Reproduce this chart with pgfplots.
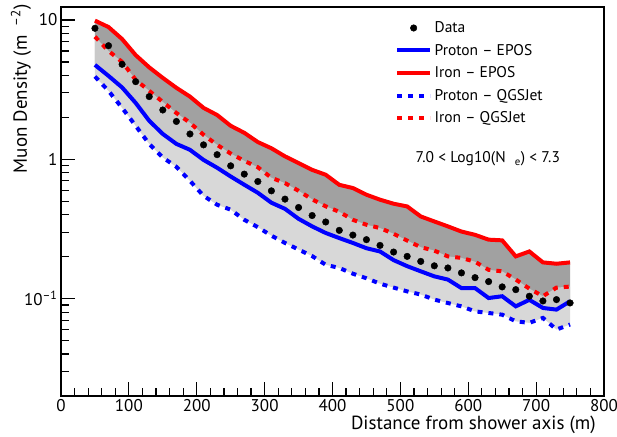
\documentclass[border=0pt]{standalone}
\usepackage{fontspec}
\setmainfont{PT Sans}
\usepackage{pgfplots}
\pgfplotsset{compat=1.18}
\usepackage{pgfplotstable}
\usepgfplotslibrary{fillbetween}
\definecolor{rootred}{rgb}{1,0,0}
\definecolor{rootblue}{rgb}{0,0,1}
\definecolor{bandE}{gray}{0.63}
\definecolor{bandQ}{gray}{0.82}

\pgfplotstableread{
x   d      fE     fQ     pE     pQ
50  8.72   9.9    7.59   4.76   3.93
70  6.54   8.9    6.0    3.97   3.1
90  4.81   7.3    5.0    3.28   2.34
110 3.61   5.6    3.72   2.54   1.74
130 2.82   4.57   3.1    1.89   1.29
150 2.26   3.84   2.58   1.52   1.03
170 1.87   3.26   2.15   1.29   0.883
190 1.52   2.82   1.83   1.17   0.701
210 1.27   2.34   1.50   0.99   0.547
230 1.08   2.08   1.27   0.87   0.472
250 0.898  1.74   1.10   0.753  0.435
270 0.783  1.55   0.975  0.657  0.368
290 0.693  1.33   0.877  0.575  0.326
310 0.594  1.20   0.737  0.488  0.283
330 0.518  1.05   0.675  0.441  0.251
350 0.451  0.94   0.594  0.374  0.225
370 0.395  0.84   0.516  0.33   0.202
390 0.355  0.775  0.46   0.296  0.175
410 0.309  0.656  0.42   0.272  0.166
430 0.286  0.622  0.368  0.251  0.151
450 0.265  0.557  0.339  0.23   0.14
470 0.241  0.513  0.321  0.218  0.128
490 0.216  0.48   0.292  0.189  0.12
510 0.201  0.459  0.261  0.171  0.1127
530 0.185  0.389  0.234  0.157  0.107
550 0.172  0.358  0.221  0.1445 0.0984
570 0.166  0.33   0.201  0.137  0.093
590 0.153  0.303  0.196  0.119  0.088
610 0.1415 0.287  0.184  0.119  0.081
630 0.1325 0.265  0.161  0.101  0.0789
650 0.1214 0.262  0.157  0.104  0.0767
670 0.116  0.201  0.137  0.088  0.0687
690 0.104  0.218  0.118  0.098  0.067
710 0.0962 0.182  0.104  0.0857 0.0727
730 0.0984 0.178  0.12   0.0834 0.06
750 0.0931 0.182  0.122  0.0957 0.0652
}\mytab

\begin{document}
\begin{tikzpicture}
\begin{axis}[
  scale only axis, width=543pt, height=389pt,
  xmin=0, xmax=800, ymode=log, ymin=0.02, ymax=12.4,
  xtick={0,100,...,800}, minor x tick num=4,
  ytick={0.1,1,10}, yticklabels={10\textsuperscript{–1},1,10},
  minor ytick={0.02,0.03,0.04,0.05,0.06,0.07,0.08,0.09,0.2,0.3,0.4,0.5,0.6,0.7,0.8,0.9,2,3,4,5,6,7,8,9},
  xtick pos=lower, ytick pos=left, tick align=inside,
  major tick length=14pt, minor tick length=8pt,
  axis line style={line width=1.4pt},
  every tick/.style={black, line width=1.2pt},
  ticklabel style={font=\fontsize{17}{20}\selectfont},
  /pgf/number format/assume math mode=true,
  xlabel={Distance from shower axis (m)},
  xlabel style={font=\fontsize{19}{22}\selectfont, at={(rel axis cs:0.985,-0.052)}, anchor=north east, inner sep=0pt},
  ylabel={Muon Density (m\hspace{0.5em}\textsuperscript{–2})},
  ylabel style={font=\fontsize{19}{22}\selectfont, at={(rel axis cs:-0.0737,0.79)}, anchor=center, inner sep=0pt},
  legend style={at={(rel axis cs:0.615,0.969)}, anchor=north west, draw=none, fill=none,
    font=\fontsize{15.5}{18}\selectfont, row sep=5pt, inner sep=0pt, cells={anchor=west},
    nodes={inner sep=2.5pt}},
  legend image code/.code={\draw[mark repeat=2,mark phase=2,#1] plot coordinates {(0pt,0pt) (16.5pt,0pt) (33pt,0pt)};},
]
\addplot[draw=none, name path=fE, forget plot] table[x=x,y=fE]{\mytab};
\addplot[draw=none, name path=pE, forget plot] table[x=x,y=pE]{\mytab};
\addplot[draw=none, name path=fQ, forget plot] table[x=x,y=fQ]{\mytab};
\addplot[draw=none, name path=pQ, forget plot] table[x=x,y=pQ]{\mytab};
\addplot[fill=bandE, draw=none, forget plot] fill between[of=fE and pE];
\addplot[fill=bandQ, fill opacity=0.84, draw=none, forget plot] fill between[of=fQ and pQ];

\addlegendimage{only marks, mark=*, mark size=3.3pt, black}
\addlegendentry{Data}
\addplot[rootblue, line width=4pt, no marks] table[x=x,y=pE]{\mytab};
\addlegendentry{Proton – EPOS}
\addplot[rootred, line width=4pt, no marks] table[x=x,y=fE]{\mytab};
\addlegendentry{Iron – EPOS}
\addplot[rootblue, line width=4pt, no marks, dash pattern=on 5pt off 6pt] table[x=x,y=pQ]{\mytab};
\addlegendentry{Proton – QGSJet}
\addplot[rootred, line width=4pt, no marks, dash pattern=on 5pt off 6pt] table[x=x,y=fQ]{\mytab};
\addlegendentry{Iron – QGSJet}
\addplot[only marks, mark=*, mark size=3.3pt, black, forget plot] table[x=x,y=d]{\mytab};

\node[font=\fontsize{15.5}{18}\selectfont] at (rel axis cs:0.786,0.609) {7.0 < Log10(N\hspace{0.6em}\textsubscript{e}) < 7.3};
\end{axis}
\pgfresetboundingbox
\path ([shift={(-61pt,-40pt)}]current axis.south west) rectangle ([shift={(13pt,7pt)}]current axis.north east);
\end{tikzpicture}
\end{document}
